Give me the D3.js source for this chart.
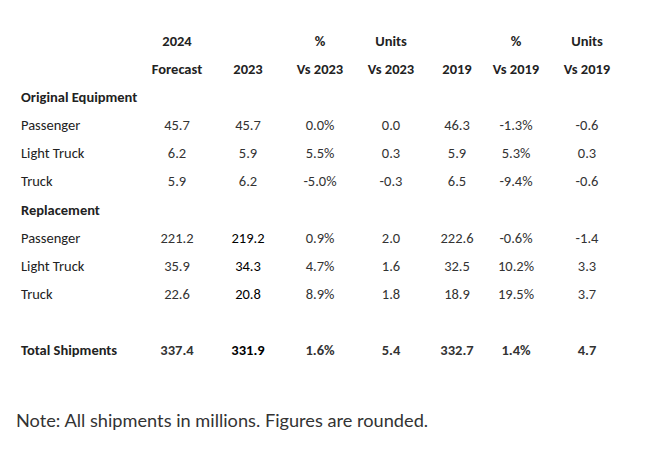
<!DOCTYPE html>
<html><head><meta charset="utf-8">
<script src="https://cdn.jsdelivr.net/npm/d3@7"></script>
<style>
html,body{margin:0;padding:0;background:#fff;}
svg{display:block;}
</style></head>
<body>
<svg id="chart" width="664" height="457"></svg>
<script>
const headerTop = ["2024", "", "%", "Units", "", "%", "Units"];
const headerBottom = ["Forecast", "2023", "Vs 2023", "Vs 2023", "2019", "Vs 2019", "Vs 2019"];
const rowLabels = ["Original Equipment", "Passenger", "Light Truck", "Truck", "Replacement", "Passenger", "Light Truck", "Truck", "", "Total Shipments"];
const rowKinds = ["section", "data", "data", "data", "section", "data", "data", "data", "blank", "total"];
const forecast2024 = [null, 45.7, 6.2, 5.9, null, 221.2, 35.9, 22.6, null, 337.4];
const actual2023 = [null, 45.7, 5.9, 6.2, null, 219.2, 34.3, 20.8, null, 331.9];
const pctVs2023 = [null, 0.0, 5.5, -5.0, null, 0.9, 4.7, 8.9, null, 1.6];
const unitsVs2023 = [null, 0.0, 0.3, -0.3, null, 2.0, 1.6, 1.8, null, 5.4];
const actual2019 = [null, 46.3, 5.9, 6.5, null, 222.6, 32.5, 18.9, null, 332.7];
const pctVs2019 = [null, -1.3, 5.3, -9.4, null, -0.6, 10.2, 19.5, null, 1.4];
const unitsVs2019 = [null, -0.6, 0.3, -0.6, null, -1.4, 3.3, 3.7, null, 4.7];
const note = "Note: All shipments in millions. Figures are rounded.";

const columns = [forecast2024, actual2023, pctVs2023, unitsVs2023, actual2019, pctVs2019, unitsVs2019];
const isPct = [false, false, true, false, false, true, false];
const colCenters = [177, 248, 320, 391, 457, 516, 587];

const svg = d3.select("#chart");
const font = "Carlito, Calibri, Lato, sans-serif";
const fs = 14.5;

const x = d3.scaleOrdinal().domain(d3.range(columns.length)).range(colCenters);
const allRows = ["h1", "h2"].concat(d3.range(rowLabels.length).map(String));
const y = d3.scalePoint().domain(allRows).range([41, 350]);

// headers
const hdr = svg.append("g").attr("font-family", font).attr("font-size", fs).attr("font-weight", "bold").attr("fill", "#222").attr("text-anchor", "middle").attr("dominant-baseline", "central");
hdr.selectAll("text.t").data(headerTop).join("text").attr("class","t")
  .attr("x", (d,i) => x(i)).attr("y", y("h1")).text(d => d);
hdr.selectAll("text.b").data(headerBottom).join("text").attr("class","b")
  .attr("x", (d,i) => x(i)).attr("y", y("h2")).text(d => d);

// row labels
const lab = svg.append("g").attr("font-family", font).attr("font-size", fs).attr("fill", "#222").attr("dominant-baseline", "central");
lab.selectAll("text").data(rowLabels).join("text")
  .attr("x", 21).attr("y", (d,i) => y(String(i)))
  .attr("font-weight", (d,i) => rowKinds[i] === "data" ? "normal" : "bold")
  .text(d => d);

// cells
const cells = [];
columns.forEach((col, ci) => col.forEach((v, ri) => {
  if (v !== null) cells.push({ci, ri, v});
}));
const fmt = v => d3.format(".1f")(v).replace("\u2212", "-");
svg.append("g").attr("font-family", font).attr("font-size", fs).attr("text-anchor", "middle").attr("dominant-baseline", "central")
  .selectAll("text").data(cells).join("text")
  .attr("x", d => x(d.ci)).attr("y", d => y(String(d.ri)))
  .attr("fill", d => d.ci === 1 && d.ri >= 4 ? "#000" : "#333")
  .attr("font-weight", d => rowKinds[d.ri] === "total" ? "bold" : "normal")
  .text(d => fmt(d.v) + (isPct[d.ci] ? "%" : ""));

svg.append("text").attr("x", 16).attr("y", 420).attr("dominant-baseline", "central")
  .attr("font-family", "Lato, sans-serif").attr("font-size", 18.2).attr("fill", "#333").text(note);
</script>
</body></html>
